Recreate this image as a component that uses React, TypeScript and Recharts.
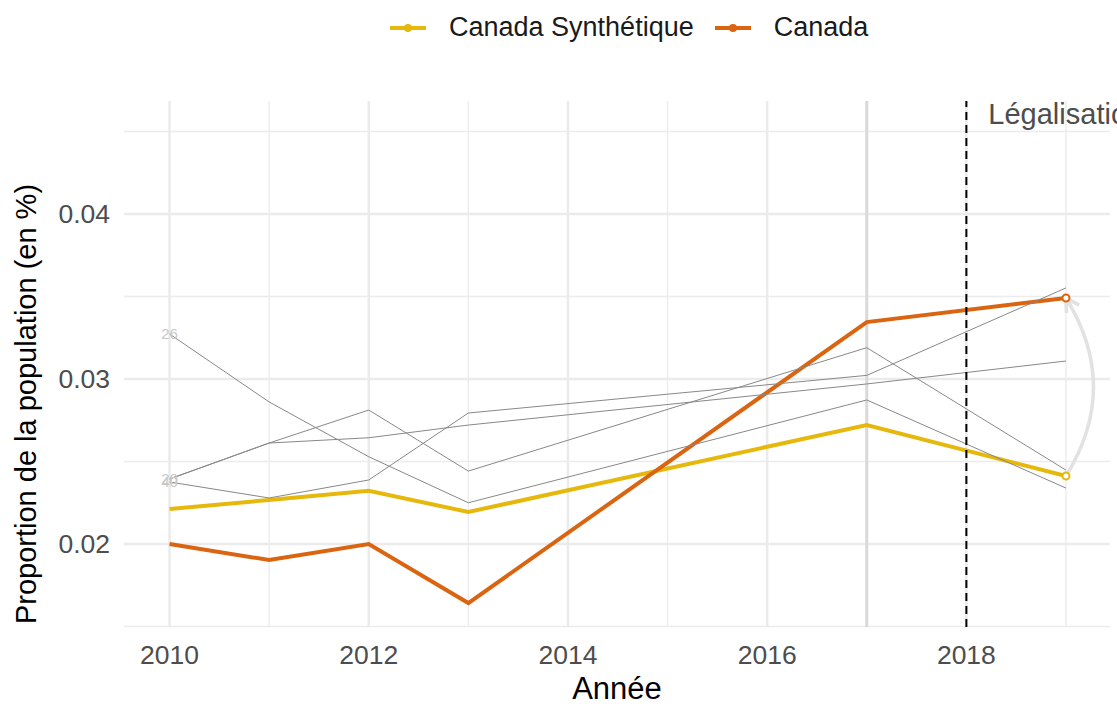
import React from "react";
import {
  LineChart,
  Line,
  XAxis,
  YAxis,
  ReferenceLine,
  Legend,
} from "recharts";

const years = [2010, 2011, 2012, 2013, 2017, 2019];
const canada = [0.02, 0.01903, 0.02, 0.01642, 0.03345, 0.03491];
const canadaSynth = [0.02212, 0.02267, 0.02323, 0.02194, 0.02721, 0.02412];
// donor regions (thin grey lines)
const donor26 = [0.03273, 0.02861, 0.02529, 0.0225, 0.02873, 0.02339];
const donor20 = [0.02394, 0.02612, 0.02812, 0.02442, 0.0319, 0.02448];
const donorX = [0.02394, 0.02612, 0.02644, 0.02721, 0.0297, 0.03109];
const donor40 = [0.02376, 0.02279, 0.02388, 0.02794, 0.03022, 0.03552];

const xTicks = [2010, 2012, 2014, 2016, 2018];
const xMinor = [2011, 2013, 2015, 2017, 2019];
const yTicks = [0.02, 0.03, 0.04];
const yMinor = [0.015, 0.025, 0.035, 0.045];

const treatYear = 2017;
const lawYear = 2018;

const YELLOW = "#E6B80B";
const ORANGE = "#DA6410";
const FONT = "'Liberation Sans', Arial, sans-serif";

const data = years.map((year, i) => ({
  year,
  canada: canada[i],
  synth: canadaSynth[i],
  d26: donor26[i],
  d20: donor20[i],
  dx: donorX[i],
  d40: donor40[i],
}));

const lastIdx = years.length - 1;

function endDot(color: string) {
  return (p: any) =>
    p.index === lastIdx ? (
      <circle
        key={`dot-${p.index}`}
        cx={p.cx}
        cy={p.cy}
        r={3.5}
        fill="#fff"
        stroke={color}
        strokeWidth={2}
      />
    ) : (
      <g key={`dot-${p.index}`} />
    );
}

function startLabel(text: string) {
  return (p: any) =>
    p.index === 0 ? (
      <text
        key={`lab-${p.index}`}
        x={p.x}
        y={p.y}
        dy="0.35em"
        textAnchor="middle"
        fontSize={15}
        fill="#c8c8c8"
        fontFamily={FONT}
      >
        {text}
      </text>
    ) : null;
}

function CurvedArrow(props: any) {
  const { x1, y1, x2, y2 } = props;
  const bulge = 55;
  const cx = (x1 + x2) / 2 + bulge;
  const cy = (y1 + y2) / 2;
  // tangent at the tip
  const dx = x2 - cx;
  const dy = y2 - cy;
  const len = Math.hypot(dx, dy);
  const bx = -dx / len;
  const by = -dy / len;
  const head = 15;
  const ang = Math.PI / 6;
  const rot = (a: number) => [
    x2 + head * (bx * Math.cos(a) - by * Math.sin(a)),
    y2 + head * (bx * Math.sin(a) + by * Math.cos(a)),
  ];
  const [ax, ay] = rot(ang);
  const [bx2, by2] = rot(-ang);
  return (
    <g fill="none" stroke="#e2e2e2" strokeWidth={3.5}>
      <path d={`M${x1},${y1} Q${cx},${cy} ${x2},${y2}`} />
      <path d={`M${ax},${ay} L${x2},${y2} L${bx2},${by2}`} />
    </g>
  );
}

function LegendContent() {
  const item = (color: string, label: string, gapAfter: number) => (
    <div style={{ display: "flex", alignItems: "center", marginRight: gapAfter }}>
      <svg width={36} height={10} style={{ marginRight: 23 }}>
        <line x1={0} y1={5} x2={36} y2={5} stroke={color} strokeWidth={4} />
        <circle cx={18} cy={5} r={4} fill={color} />
      </svg>
      <span>{label}</span>
    </div>
  );
  return (
    <div
      style={{
        display: "flex",
        alignItems: "center",
        paddingLeft: 390,
        fontFamily: FONT,
        fontSize: 27,
        color: "#1a1a1a",
      }}
    >
      {item(YELLOW, "Canada Synthétique", 21)}
      {item(ORANGE, "Canada", 0)}
    </div>
  );
}

export default function App() {
  const xDomain = [2009.543, 2019.442];
  const yDomain = [0.01497, 0.04685];
  const tickStyle = { fontSize: 26.5, fill: "#4d4d4d", fontFamily: FONT };

  return (
    <div style={{ width: 1117, height: 704, position: "relative" }}>
      <style>{"body{margin:0}"}</style>
      <LineChart
        width={1117}
        height={704}
        data={data}
        margin={{ top: 101, right: 7, bottom: 0, left: 0 }}
      >
        <XAxis
          dataKey="year"
          type="number"
          domain={xDomain}
          ticks={xTicks}
          allowDataOverflow
          height={77}
          tickLine={false}
          axisLine={false}
          tickMargin={12}
          tick={tickStyle}
        />
        <YAxis
          type="number"
          domain={yDomain}
          ticks={yTicks}
          allowDataOverflow
          width={124}
          tickLine={false}
          axisLine={false}
          tickMargin={8}
          tick={tickStyle}
        />

        {yMinor.map((v) => (
          <ReferenceLine key={`ym${v}`} y={v} stroke="#ececec" strokeWidth={1.4} />
        ))}
        {xMinor.map((v) => (
          <ReferenceLine key={`xm${v}`} x={v} stroke="#ececec" strokeWidth={1.4} />
        ))}
        {yTicks.map((v) => (
          <ReferenceLine key={`yM${v}`} y={v} stroke="#ebebeb" strokeWidth={2.5} />
        ))}
        {xTicks.map((v) => (
          <ReferenceLine key={`xM${v}`} x={v} stroke="#ebebeb" strokeWidth={2.5} />
        ))}
        <ReferenceLine x={treatYear} stroke="#d9d9d9" strokeWidth={3} />

        <ReferenceLine
          segment={[
            { x: 2019, y: canadaSynth[lastIdx] },
            { x: 2019, y: canada[lastIdx] },
          ]}
          shape={CurvedArrow}
        />

        <Line
          dataKey="synth"
          stroke={YELLOW}
          strokeWidth={4}
          dot={endDot(YELLOW)}
          activeDot={false}
          isAnimationActive={false}
        />
        <Line
          dataKey="canada"
          stroke={ORANGE}
          strokeWidth={4}
          dot={endDot(ORANGE)}
          activeDot={false}
          isAnimationActive={false}
        />

        <Line dataKey="d26" stroke="#888" strokeWidth={1} dot={false} activeDot={false} isAnimationActive={false} label={startLabel("26")} />
        <Line dataKey="d20" stroke="#888" strokeWidth={1} dot={false} activeDot={false} isAnimationActive={false} label={startLabel("20")} />
        <Line dataKey="dx" stroke="#888" strokeWidth={1} dot={false} activeDot={false} isAnimationActive={false} />
        <Line dataKey="d40" stroke="#888" strokeWidth={1} dot={false} activeDot={false} isAnimationActive={false} label={startLabel("40")} />

        <ReferenceLine
          x={lawYear}
          stroke="#000"
          strokeWidth={2}
          strokeDasharray="8 5"
          label={(p: any) => (
            <text
              x={p.viewBox.x + 22}
              y={p.viewBox.y + 23}
              fontSize={29}
              fill="#4d4d4d"
              fontFamily={FONT}
            >
              Légalisation
            </text>
          )}
        />

        <Legend
          verticalAlign="middle"
          align="center"
          layout="horizontal"
          wrapperStyle={{ top: 12, left: 0, width: 1117 }}
          content={() => <LegendContent />}
        />

        <text x={617} y={699} textAnchor="middle" fontSize={31} fill="#000" fontFamily={FONT}>
          Année
        </text>
        <text
          x={36}
          y={404}
          textAnchor="middle"
          fontSize={29}
          fill="#000"
          fontFamily={FONT}
          transform="rotate(-90 36 404)"
        >
          Proportion de la population (en %)
        </text>
      </LineChart>
    </div>
  );
}
